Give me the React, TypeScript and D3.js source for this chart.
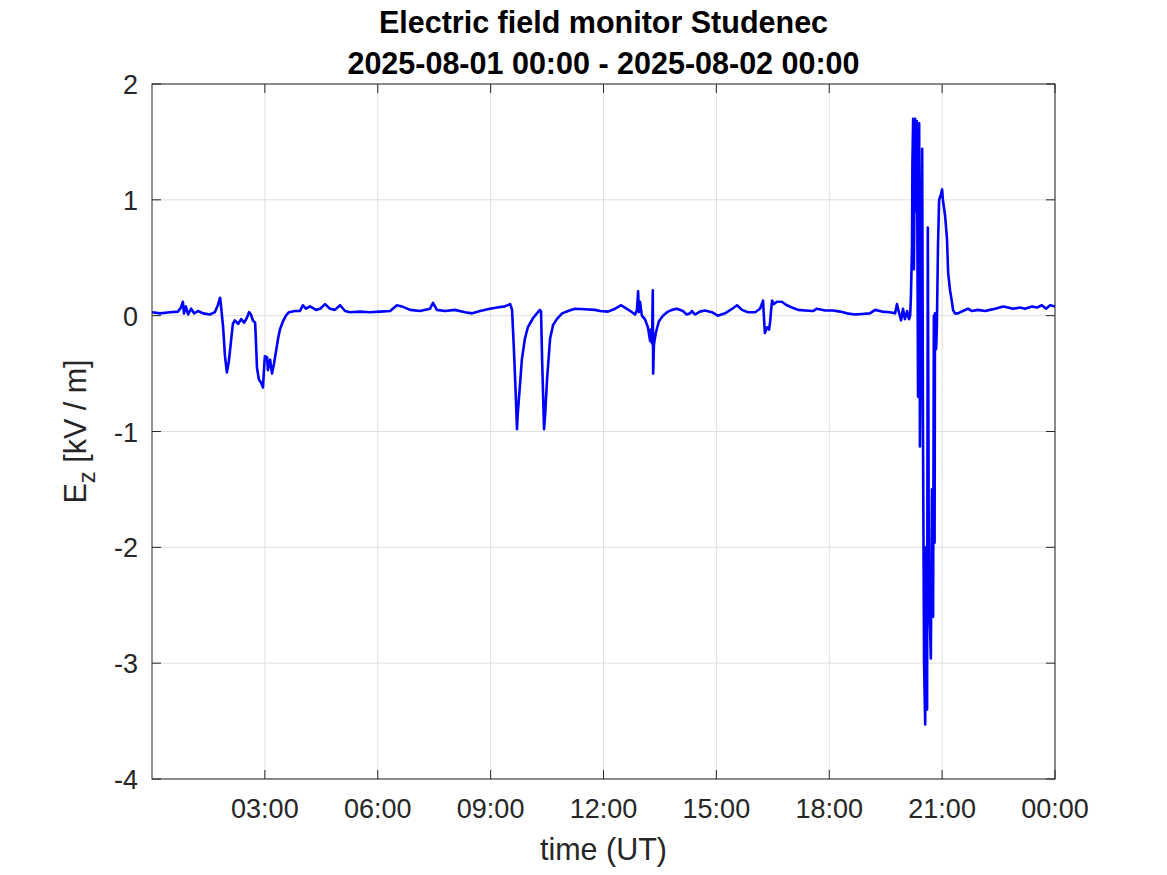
import React, { useEffect, useRef } from "react";
import * as d3 from "d3";

const titleLines = ["Electric field monitor Studenec", "2025-08-01 00:00 - 2025-08-02 00:00"];
const xTicks = [3, 6, 9, 12, 15, 18, 21, 24];
const yTicks = [-4, -3, -2, -1, 0, 1, 2];

// time in hours (UT) since 2025-08-01 00:00
const hours = [
  0.00, 0.21, 0.48, 0.69, 0.77, 0.82, 0.85, 0.90, 0.96, 1.04, 1.12, 1.22, 1.36, 1.54, 1.67, 1.75, 1.81, 1.83, 1.89, 1.94,
  1.99, 2.04, 2.10, 2.15, 2.20, 2.29, 2.37, 2.45, 2.52, 2.58, 2.63, 2.68, 2.74, 2.76, 2.79, 2.84, 2.90, 2.95, 2.98, 3.00,
  3.06, 3.08, 3.14, 3.19, 3.24, 3.30, 3.35, 3.40, 3.48, 3.56, 3.64, 3.80, 3.93, 4.01, 4.09, 4.20, 4.36, 4.47, 4.60, 4.73,
  4.86, 5.00, 5.13, 5.26, 5.53, 5.79, 6.06, 6.33, 6.51, 6.64, 6.86, 7.12, 7.39, 7.47, 7.57, 7.79, 8.05, 8.32, 8.51, 8.72,
  8.98, 9.17, 9.38, 9.52, 9.57, 9.62, 9.67, 9.70, 9.72, 9.78, 9.83, 9.91, 9.99, 10.13, 10.23, 10.31, 10.34, 10.37, 10.42, 10.45,
  10.50, 10.58, 10.66, 10.76, 10.90, 11.06, 11.24, 11.51, 11.77, 11.91, 12.12, 12.31, 12.47, 12.57, 12.71, 12.84, 12.89, 12.92, 12.94, 12.97,
  13.02, 13.10, 13.18, 13.24, 13.26, 13.29, 13.31, 13.32, 13.34, 13.39, 13.47, 13.58, 13.69, 13.82, 13.95, 14.11, 14.21, 14.30, 14.35, 14.43,
  14.56, 14.70, 14.88, 15.04, 15.23, 15.42, 15.55, 15.68, 15.84, 16.03, 16.16, 16.21, 16.24, 16.27, 16.29, 16.35, 16.40, 16.43, 16.45, 16.48,
  16.53, 16.61, 16.74, 16.87, 17.01, 17.17, 17.36, 17.57, 17.67, 17.89, 18.10, 18.29, 18.47, 18.68, 18.87, 19.08, 19.22, 19.40, 19.61, 19.75,
  19.80, 19.85, 19.91, 19.96, 20.01, 20.07, 20.12, 20.15, 20.17, 20.20, 20.21, 20.23, 20.25, 20.28, 20.31, 20.33, 20.36, 20.39, 20.41, 20.44,
  20.47, 20.49, 20.52, 20.55, 20.57, 20.60, 20.62, 20.65, 20.68, 20.70, 20.73, 20.76, 20.78, 20.80, 20.81, 20.84, 20.86, 20.89, 20.92, 20.97,
  21.00, 21.02, 21.08, 21.13, 21.16, 21.21, 21.26, 21.29, 21.34, 21.42, 21.55, 21.69, 21.79, 21.95, 22.14, 22.27, 22.41, 22.62, 22.75, 22.88,
  23.07, 23.20, 23.39, 23.52, 23.65, 23.76, 23.87, 24.00,
];

// vertical electric field E_z in kV/m
const ez = [
  0.03, 0.02, 0.03, 0.035, 0.07, 0.12, 0.02, 0.08, 0.01, 0.06, 0.02, 0.04, 0.02, 0.01, 0.03, 0.09, 0.155, 0.10, -0.10, -0.35,
  -0.49, -0.40, -0.22, -0.07, -0.04, -0.07, -0.03, -0.06, -0.02, 0.03, 0.01, -0.04, -0.06, -0.20, -0.45, -0.55, -0.58, -0.62, -0.45, -0.35,
  -0.36, -0.47, -0.38, -0.50, -0.42, -0.30, -0.20, -0.12, -0.05, 0.00, 0.03, 0.04, 0.04, 0.09, 0.06, 0.08, 0.05, 0.06, 0.10, 0.06,
  0.05, 0.09, 0.04, 0.03, 0.035, 0.03, 0.035, 0.04, 0.09, 0.08, 0.05, 0.04, 0.06, 0.11, 0.05, 0.04, 0.05, 0.03, 0.02, 0.04,
  0.06, 0.07, 0.08, 0.10, 0.05, -0.30, -0.70, -0.98, -0.85, -0.60, -0.38, -0.20, -0.10, -0.02, 0.02, 0.05, 0.04, -0.40, -0.98, -0.85,
  -0.55, -0.20, -0.08, -0.03, 0.02, 0.04, 0.06, 0.055, 0.05, 0.04, 0.035, 0.06, 0.09, 0.07, 0.04, 0.01, 0.05, 0.21, 0.03, 0.12,
  0.00, -0.03, -0.10, -0.22, -0.12, -0.24, 0.22, -0.50, -0.25, -0.15, -0.05, 0.00, 0.03, 0.05, 0.06, 0.04, 0.01, 0.02, 0.04, 0.01,
  0.035, 0.045, 0.03, 0.00, 0.02, 0.06, 0.09, 0.05, 0.03, 0.03, 0.06, 0.10, 0.13, -0.05, -0.15, -0.10, -0.12, -0.05, 0.03, 0.13,
  0.10, 0.12, 0.12, 0.09, 0.07, 0.05, 0.045, 0.04, 0.06, 0.045, 0.045, 0.035, 0.02, 0.01, 0.015, 0.02, 0.05, 0.035, 0.03, 0.02,
  0.10, 0.03, -0.04, 0.06, -0.03, 0.04, -0.03, 0.00, 0.16, 0.60, 1.30, 1.70, 0.40, 1.70, 0.90, 1.68, -0.70, 1.66, -1.13, 0.30,
  1.44, -0.90, -3.00, -3.53, -2.00, -3.40, 0.76, -2.50, -2.70, -2.96, -1.50, -2.60, 0.00, -1.96, 0.02, -0.29, -0.10, 0.60, 1.00, 1.05,
  1.09, 1.00, 0.86, 0.66, 0.37, 0.22, 0.12, 0.05, 0.02, 0.02, 0.04, 0.06, 0.04, 0.05, 0.04, 0.05, 0.06, 0.08, 0.07, 0.06,
  0.07, 0.06, 0.08, 0.07, 0.09, 0.06, 0.09, 0.08,
];

const W = 1167;
const H = 875;
const M = { left: 152, right: 1055, top: 84, bottom: 779 };

export default function App() {
  const ref = useRef<SVGSVGElement | null>(null);

  useEffect(() => {
    const svg = d3.select(ref.current);
    svg.selectAll("*").remove();

    const x = d3.scaleLinear().domain([0, 24]).range([M.left, M.right]);
    const y = d3.scaleLinear().domain([-4, 2]).range([M.bottom, M.top]);
    const font = "'Liberation Sans', Arial, Helvetica, sans-serif";
    const tickColor = "#262626";
    const tickLen = 9;

    svg.append("rect").attr("x", 0).attr("y", 0).attr("width", W).attr("height", H).attr("fill", "#fff");

    // grid
    const g = svg.append("g");
    g.selectAll("line.gx")
      .data(xTicks)
      .join("line")
      .attr("x1", (d) => x(d)).attr("x2", (d) => x(d))
      .attr("y1", M.top).attr("y2", M.bottom)
      .attr("stroke", "#dfdfdf").attr("stroke-width", 1);
    g.selectAll("line.gy")
      .data(yTicks)
      .join("line")
      .attr("y1", (d) => y(d)).attr("y2", (d) => y(d))
      .attr("x1", M.left).attr("x2", M.right)
      .attr("stroke", "#dfdfdf").attr("stroke-width", 1);

    // data line
    const pts = hours.map((h, i) => [h, ez[i]] as [number, number]);
    const line = d3.line<[number, number]>().x((d) => x(d[0])).y((d) => y(d[1]));
    svg.append("path")
      .attr("d", line(pts) as string)
      .attr("fill", "none")
      .attr("stroke", "#0000ff")
      .attr("stroke-width", 2.6)
      .attr("stroke-linejoin", "round");

    // box
    svg.append("rect")
      .attr("x", M.left).attr("y", M.top)
      .attr("width", M.right - M.left).attr("height", M.bottom - M.top)
      .attr("fill", "none").attr("stroke", tickColor).attr("stroke-width", 1);

    // ticks (inward, on all four sides)
    const t = svg.append("g").attr("stroke", tickColor).attr("stroke-width", 1);
    xTicks.forEach((d) => {
      t.append("line").attr("x1", x(d)).attr("x2", x(d)).attr("y1", M.bottom).attr("y2", M.bottom - tickLen);
      t.append("line").attr("x1", x(d)).attr("x2", x(d)).attr("y1", M.top).attr("y2", M.top + tickLen);
    });
    yTicks.forEach((d) => {
      t.append("line").attr("x1", M.left).attr("x2", M.left + tickLen).attr("y1", y(d)).attr("y2", y(d));
      t.append("line").attr("x1", M.right).attr("x2", M.right - tickLen).attr("y1", y(d)).attr("y2", y(d));
    });

    // tick labels
    svg.selectAll("text.xt")
      .data(xTicks)
      .join("text")
      .attr("x", (d) => x(d))
      .attr("y", M.bottom + 39)
      .attr("text-anchor", "middle")
      .attr("font-family", font)
      .attr("font-size", 27)
      .attr("fill", tickColor)
      .text((d) => `${String(d % 24).padStart(2, "0")}:00`);
    svg.selectAll("text.yt")
      .data(yTicks)
      .join("text")
      .attr("x", M.left - 14)
      .attr("y", (d) => y(d) + 10)
      .attr("text-anchor", "end")
      .attr("font-family", font)
      .attr("font-size", 27)
      .attr("fill", tickColor)
      .text((d) => `${d}`);

    // axis labels
    svg.append("text")
      .attr("x", (M.left + M.right) / 2)
      .attr("y", 860)
      .attr("text-anchor", "middle")
      .attr("font-family", font)
      .attr("font-size", 30.5)
      .attr("fill", tickColor)
      .text("time (UT)");

    const yl = svg.append("text")
      .attr("transform", `translate(86, ${(M.top + M.bottom) / 2}) rotate(-90)`)
      .attr("text-anchor", "middle")
      .attr("font-family", font)
      .attr("font-size", 30.5)
      .attr("fill", tickColor);
    yl.append("tspan").text("E");
    yl.append("tspan").attr("font-size", 24).attr("dy", 9).text("z");
    yl.append("tspan").attr("dy", -9).text(" [kV / m]");

    // title
    titleLines.forEach((s, i) => {
      svg.append("text")
        .attr("x", (M.left + M.right) / 2)
        .attr("y", 33 + i * 41)
        .attr("text-anchor", "middle")
        .attr("font-family", font)
        .attr("font-size", 30.5)
        .attr("font-weight", "bold")
        .attr("fill", "#000")
        .text(s);
    });
  }, []);

  return (
    <svg
      ref={ref}
      width={W}
      height={H}
      style={{ position: "absolute", left: 0, top: 0, display: "block" }}
    />
  );
}
